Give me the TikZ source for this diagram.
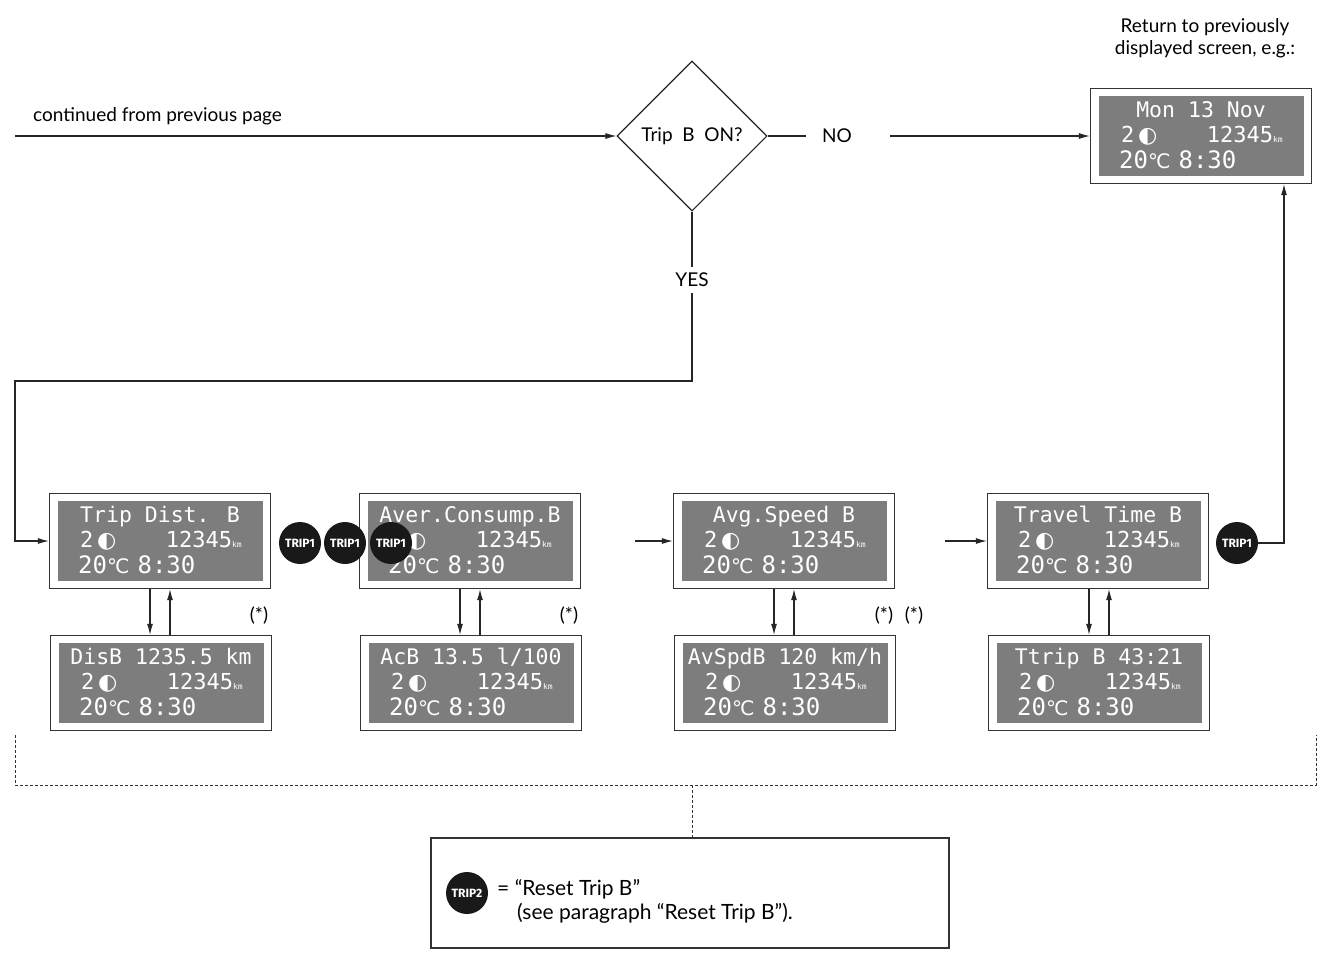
\documentclass[tikz,border=0pt]{standalone}
\usepackage{fontspec}
\setmainfont{Lato}
\newfontfamily\lcd{DejaVu Sans Mono}
\newfontfamily\djs{DejaVu Sans}
\newfontfamily\cond{Fira Sans}
\usetikzlibrary{calc,arrows.meta,shapes.geometric}
\definecolor{lcdgray}{RGB}{125,125,125}
\tikzset{
 x=1pt,y=-1pt,
 line/.style={draw=black!85,line width=1.1pt},
 arr/.style={line,-{Latex[length=11pt,width=6pt]}},
 dispout/.style={draw=black!80,line width=1.2pt,fill=white,minimum width=221pt,minimum height=95pt,inner sep=0},
 dispin/.style={fill=lcdgray,minimum width=205pt,minimum height=80pt,inner sep=0},
 dtxt/.style={text=white,inner sep=0,text height=16pt,text depth=4pt,font=\lcd\fontsize{22}{24}\selectfont},
 trip/.style={circle,fill=black!90,minimum size=42pt,inner sep=0,text=white,font=\cond\bfseries\fontsize{12}{12}\selectfont},
 lbl/.style={font=\fontsize{19}{22}\selectfont,inner sep=0}
}
\newcommand\disp[4]{%
 \node[dispout] (#1) at (#2,#3) {};
 \node[dispin] (#1in) at (#1) {};
 \node[dtxt,font=\lcd\fontsize{21.5}{24}\selectfont] (#1t) at ($(#1)+(0,-25)$) {#4};
 \node[dtxt,anchor=west] (#1a) at ($(#1)+(-80,0)$) {2\,{\djs◐}};
 \node[dtxt,anchor=east] (#1b) at ($(#1)+(82,0)$) {12345{\fontsize{8}{8}\selectfont km}};
 \node[dtxt,anchor=west,font=\lcd\fontsize{24}{26}\selectfont] (#1c) at ($(#1)+(-82,26)$) {20{\djs\fontsize{20}{20}\selectfont ℃}\,\,8:30};
}
\begin{document}
\begin{tikzpicture}
\useasboundingbox (0,0) rectangle (1326,954);
\node[lbl,align=center] (ret) at (1205,38) {Return to previously\\displayed screen, e.g.:};
\node[lbl,anchor=west] (cont) at (33,116) {continued from previous page};
\coordinate (cin) at (15,136);
\node[diamond,draw=black!85,line width=1.1pt,minimum width=150pt,minimum height=150pt,inner sep=0] (dia) at (692,136) {};
\node[lbl] at (dia) {Trip\ \ B\ \ ON?};
\draw[arr] (cin) -- (dia.west);
\node[lbl] (no) at (837,136) {NO};
\disp{mon}{1201}{136}{Mon 13 Nov}
\draw[line] (dia.east) -- ($(no.west)+(-16,0)$);
\draw[arr] ($(no.east)+(38,0)$) -- (mon.west);
\node[lbl,inner sep=6pt] (yes) at (692,280) {YES};
\disp{d1}{160}{541}{Trip Dist. B}
\disp{d2}{470}{541}{Aver.Consump.B}
\disp{d3}{784}{541}{Avg.Speed B}
\disp{d4}{1098}{541}{Travel Time B}
\disp{e1}{161}{683}{DisB 1235.5 km}
\disp{e2}{471}{683}{AcB 13.5 l/100}
\disp{e3}{785}{683}{AvSpdB 120 km/h}
\disp{e4}{1099}{683}{Ttrip B 43:21}
\draw[line] (dia.south) -- (yes.north);
\coordinate (y1) at (692,381); \coordinate (y2) at (15,381); \coordinate (y3) at (15,541);
\draw[arr] (yes.south) -- (y1) -- (y2) -- (y3) -- (d1.west);
\node[trip] (t1) at (300,543) {TRIP1};
\node[trip] (t2) at (345,543) {TRIP1};
\node[trip] (t3) at (391,543) {TRIP1};
\node[trip] (t4) at (1237,543) {TRIP1};
\coordinate (a2) at (635,541); \coordinate (a3) at (945,541);
\draw[arr] (a2) -- (d3.west);
\draw[arr] (a3) -- (d4.west);
\coordinate (r1) at (1284,543);
\draw[arr] (t4.east) -- (r1) -- (r1 |- mon.south);
\foreach \i/\dx in {1/-10,2/-10,3/-10,4/-9}{
  \draw[arr] ($(d\i.south)+(\dx,0)$) -- ($(e\i.north)+(\dx-1,0)$);
  \draw[arr] ($(e\i.north)+(\dx+19,0)$) -- ($(d\i.south)+(\dx+20,0)$);
}
\node[lbl] (s1) at (259,616) {(*)};
\node[lbl] (s2) at (569,616) {(*)};
\node[lbl] (s3) at (884,616) {(*)};
\node[lbl] (s4) at (914,616) {(*)};
\coordinate (b1) at (15,735); \coordinate (b2) at (15,785); \coordinate (b3) at (1316,785); \coordinate (b4) at (1316,735);
\coordinate (bm) at (692,785);
\draw[black!80,line width=0.8pt,dash pattern=on 3pt off 2pt] (b1) -- (b2) -- (b3) -- (b4);
\node[draw=black!80,line width=1.2pt,minimum width=518pt,minimum height=110pt,inner sep=0] (leg) at (690,893) {};
\draw[black!80,line width=0.8pt,dash pattern=on 3pt off 2pt] (bm) -- (leg.north -| bm);
\node[trip] (tr2) at (467,893) {TRIP2};
\node[lbl,anchor=north west,align=left,font=\fontsize{21}{24}\selectfont] (legt) at (497,879) {= “Reset Trip B”\\\hspace*{20pt}(see paragraph “Reset Trip B”).};
\end{tikzpicture}
\end{document}
